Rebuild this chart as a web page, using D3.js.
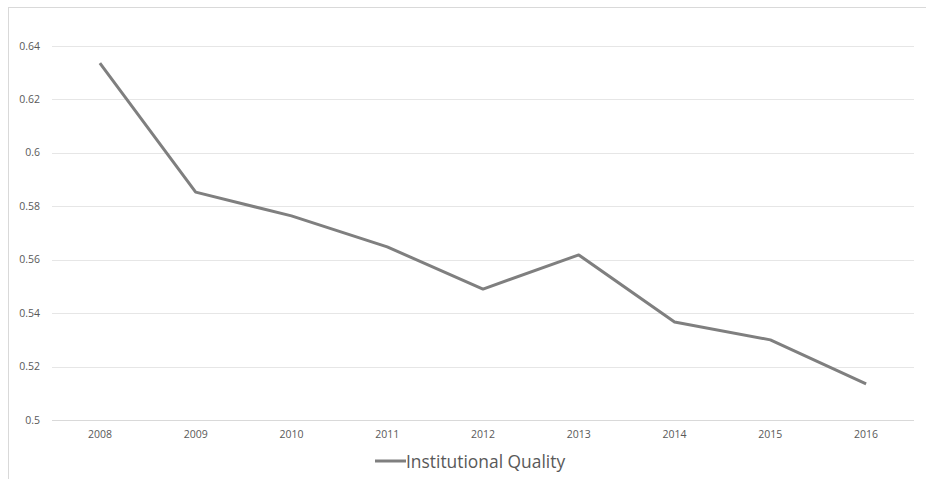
<!DOCTYPE html>
<html>
<head>
<meta charset="utf-8">
<script src="https://cdn.jsdelivr.net/npm/d3@7"></script>
<style>
  body { margin: 0; background: #fff; }
  svg { display: block; font-family: "Open Sans", "Noto Sans", "Liberation Sans", sans-serif; }
</style>
</head>
<body>
<script>
const years = ["2008", "2009", "2010", "2011", "2012", "2013", "2014", "2015", "2016"];
const quality = [0.6336, 0.5853, 0.5764, 0.5648, 0.549, 0.5618, 0.5367, 0.530, 0.5135];
const yTicks = [0.5, 0.52, 0.54, 0.56, 0.58, 0.6, 0.62, 0.64];
const seriesName = "Institutional Quality";

const width = 926, height = 479;
const margin = {left: 52, right: 12, top: 46, bottom: 59};

const svg = d3.select("body").append("svg")
    .attr("width", width)
    .attr("height", height);

// chart frame
svg.append("rect")
    .attr("x", 8.5).attr("y", 7.5)
    .attr("width", width).attr("height", height)
    .style("fill", "none")
    .style("stroke", "#d9d9d9");

const x = d3.scaleBand()
    .domain(years)
    .range([margin.left, width - margin.right]);

const y = d3.scaleLinear()
    .domain([0.5, 0.64])
    .range([height - margin.bottom, margin.top]);

// gridlines
svg.append("g")
    .selectAll("line")
    .data(yTicks)
    .enter()
    .append("line")
    .attr("x1", margin.left).attr("x2", width - margin.right)
    .attr("y1", d => Math.round(y(d)) + 0.5)
    .attr("y2", d => Math.round(y(d)) + 0.5)
    .style("stroke", (d, i) => i === 0 ? "#d9d9d9" : "#e6e6e6");

// y labels
svg.append("g")
    .selectAll("text")
    .data(yTicks)
    .enter()
    .append("text")
    .attr("x", 40)
    .attr("y", d => y(d) + 3.5)
    .attr("text-anchor", "end")
    .style("font-size", "10.5px")
    .style("fill", "#595959")
    .text(d => d3.format("")(+d.toFixed(2)));

// x labels
svg.append("g")
    .selectAll("text")
    .data(years)
    .enter()
    .append("text")
    .attr("x", d => x(d) + x.bandwidth() / 2)
    .attr("y", height - margin.bottom + 18)
    .attr("text-anchor", "middle")
    .style("font-size", "10.5px")
    .style("fill", "#595959")
    .text(d => d);

// series line
const line = d3.line()
    .x((d, i) => x(years[i]) + x.bandwidth() / 2)
    .y(d => y(d));

svg.append("path")
    .datum(quality)
    .attr("d", line)
    .style("fill", "none")
    .style("stroke", "#7f7f7f")
    .style("stroke-width", 3)
    .style("stroke-linejoin", "round");

// legend
const lg = svg.append("g").attr("transform", "translate(375,461)");
lg.append("line")
    .attr("x1", 0).attr("x2", 31)
    .attr("y1", 0).attr("y2", 0)
    .style("stroke", "#7f7f7f")
    .style("stroke-width", 3);
lg.append("text")
    .attr("x", 31)
    .attr("y", 6.5)
    .style("font-size", "17.4px")
    .style("fill", "#595959")
    .text(seriesName);
</script>
</body>
</html>
